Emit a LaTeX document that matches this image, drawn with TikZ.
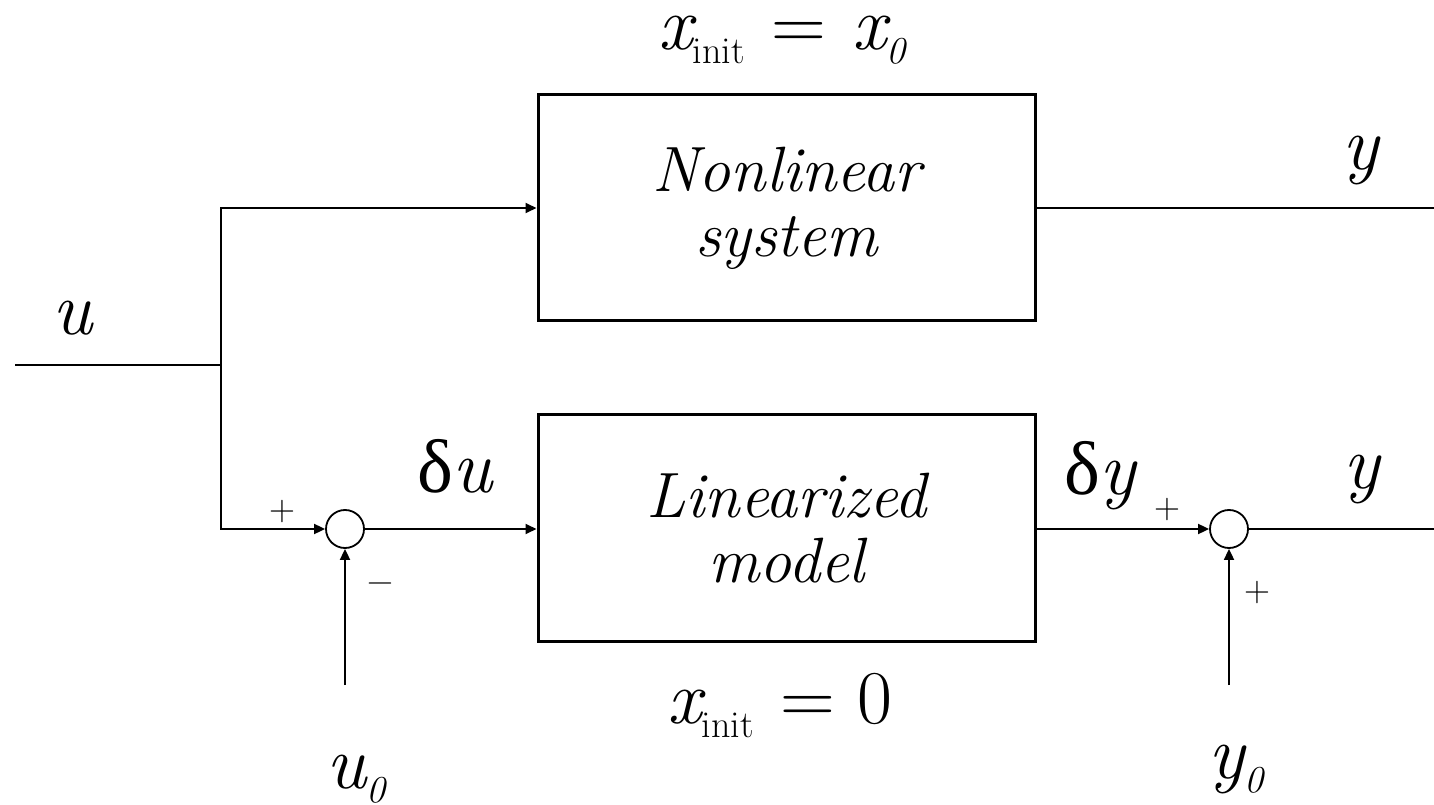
\documentclass[tikz,border=0pt]{standalone}
\usepackage{fontspec}
\newfontfamily\grk{Liberation Serif}
\usetikzlibrary{arrows.meta,positioning,calc}
\newcommand{\lowidx}[1]{\raisebox{-7pt}{\fontsize{19}{19}\selectfont #1}}

\begin{document}
\begin{tikzpicture}[x=0.5pt,y=0.5pt,>={Triangle[length=5.5pt,width=5pt]}]
\tikzstyle{plant}=[draw,line width=1.5pt,minimum width=248.5pt,minimum height=113pt,align=center,font=\fontsize{32}{32.5}\selectfont\itshape]
\tikzstyle{sumpt}=[draw,circle,line width=0.9pt,minimum size=19pt,inner sep=0pt]
\tikzstyle{sig}=[font=\fontsize{38}{40}\selectfont\itshape,inner sep=0pt,anchor=base]
\tikzstyle{sgn}=[font=\fontsize{18}{18}\selectfont,inner sep=0pt]
\tikzstyle{wire}=[line width=0.9pt]
\useasboundingbox (0,0) rectangle (1434,804);
% blocks
\node[plant] (nonlin) at (786.5,596) {Nonlinear\\system};
\node[plant] (lin) at (786.5,276) {Linearized\\model};
\node[sumpt] (sumu) at (345,275) {};
\node[sumpt] (sumy) at (1229,275) {};
% end points
\coordinate (uin) at (15,439);
\coordinate (split) at (221,439);
\coordinate (ubase) at (345,119);
\coordinate (y0base) at (1229,119);
\coordinate (yout) at (1434,596);
\coordinate (ylin) at (1434,275);
% signals
\draw[wire] (uin)--(split);
\draw[wire,->] (split)|-(nonlin.west);
\draw[wire,->] (split)|-(sumu.west);
\draw[wire,->] (sumu.east)--(sumu.east-|lin.west);
\draw[wire,->] (ubase)--(sumu.south);
\draw[wire,->] (lin.east|-sumy.west)--(sumy.west);
\draw[wire,->] (y0base)--(sumy.south);
\draw[wire] (nonlin.east)--(yout);
\draw[wire] (sumy.east)--(ylin);
% labels
\node[sig] (lu) at (72,469) {u};
\node[sig] (lu0) at (356,16) {u\lowidx{0}};
\node[sig] (ly0) at (1236,26) {y\lowidx{0}};
\node[sig] (ly) at (1361,634) {y};
\node[sig] (lylin) at (1362,316) {y};
\node[sig] (ldu) at (455,312) {{\grk\upshape δ}u};
\node[sig] (ldy) at (1100,310) {{\grk\upshape δ}y};
\node[sig] (lxtop) at (782,754) {x\lowidx{\upshape init} {\upshape =} x\lowidx{0}};
\node[sig] (lxbot) at (780,81) {x\lowidx{\upshape init} {\upshape = 0}};
\node[sgn] (pu) at (282,292) {+};
\node[sgn] (mu) at (380,216) {\textminus};
\node[sgn] (py) at (1167,294) {+};
\node[sgn] (py0) at (1257,211) {+};
\end{tikzpicture}
\end{document}
